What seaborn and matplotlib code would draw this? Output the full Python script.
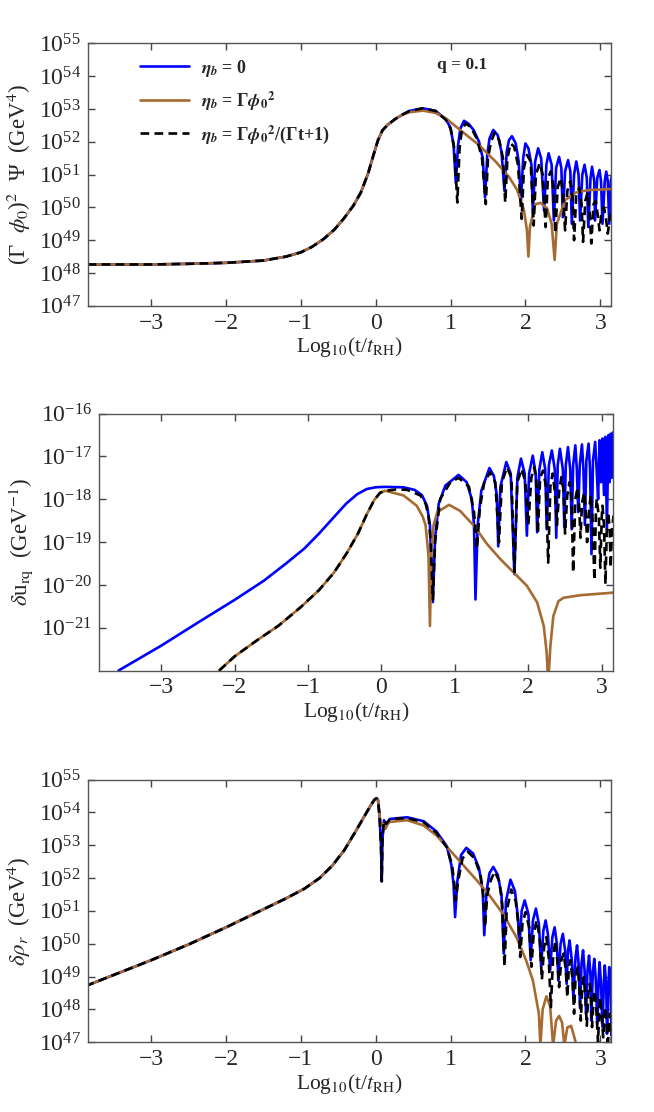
import numpy as np
import matplotlib
matplotlib.use('Agg')
from matplotlib import pyplot as plt
import seaborn as sns

# all y values are log10 of the plotted quantity

# ---------------- panel 1 : (Gamma phi0)^2 Psi ----------------
p1_x_common = [-3.85, -3.0, -2.5, -2.0, -1.5, -1.2, -1.0, -0.85, -0.7, -0.55, -0.42, -0.3, -0.2, -0.1, -0.03, 0.03,
               0.09, 0.16, 0.27, 0.36]
p1_y_common = [48.26, 48.26, 48.28, 48.31, 48.38, 48.5, 48.63, 48.8, 49.03, 49.33, 49.68, 50.05, 50.45, 51.05, 51.6,
               52.05, 52.35, 52.52, 52.71, 52.83]

p1_x_blue = [0.45, 0.63, 0.80, 0.94, 1.0, 1.04, 1.07, 1.10, 1.13, 1.18, 1.24, 1.31, 1.38, 1.43, 1.46, 1.49, 1.52,
             1.57, 1.63, 1.68, 1.72, 1.75, 1.78, 1.82, 1.87, 1.91, 1.94, 1.97, 2.0, 2.04, 2.08, 2.10, 2.13, 2.17,
             2.21, 2.25, 2.28, 2.31, 2.35, 2.38, 2.41, 2.45, 2.48, 2.50, 2.53, 2.57, 2.60, 2.62, 2.65, 2.68, 2.71,
             2.73, 2.76, 2.79, 2.82, 2.84, 2.87, 2.89, 2.92, 2.93, 2.96, 2.99, 3.01, 3.03, 3.06, 3.08, 3.10, 3.12,
             3.14, 3.16]
p1_y_blue = [52.94, 53.02, 52.94, 52.68, 52.42, 51.9, 50.75, 51.9, 52.4, 52.64, 52.55, 52.35, 52.0, 51.5, 50.3, 51.6, 52.1,
             52.36, 52.2, 51.7, 50.5, 51.7, 52.05, 52.17, 51.95, 51.4, 50.2, 51.5, 51.95, 51.8, 51.3, 49.8, 51.4, 51.8,
             51.5, 49.9, 51.3, 51.65, 51.3, 49.6, 51.2, 51.54, 51.2, 49.7, 51.1, 51.44, 51.1, 49.5, 51.0, 51.4, 51.0,
             49.6, 51.0, 51.3, 50.9, 49.4, 50.9, 51.24, 50.8, 49.6, 50.9, 51.14, 50.8, 49.5, 50.8, 51.09, 50.8, 49.5,
             50.8, 51.0]

p1_x_brown = [0.45, 0.63, 0.80, 0.94, 1.16, 1.38, 1.6, 1.78, 1.89, 1.98, 2.02, 2.04, 2.06, 2.13, 2.2, 2.29, 2.35,
              2.39, 2.42, 2.53, 2.67, 2.85, 3.16]
p1_y_brown = [52.9, 52.95, 52.88, 52.71, 52.3, 51.9, 51.4, 50.93, 50.53, 49.92, 49.3, 48.5, 49.4, 50.09, 50.14, 49.97, 49.5,
              48.4, 49.5, 50.22, 50.45, 50.53, 50.56]

p1_x_black = [0.45, 0.63, 0.80, 0.94, 1.0, 1.05, 1.09, 1.12, 1.15, 1.20, 1.27, 1.35, 1.42, 1.47, 1.50, 1.54, 1.59,
              1.65, 1.70, 1.73, 1.76, 1.80, 1.85, 1.90, 1.95, 1.98, 2.02, 2.07, 2.11, 2.14, 2.19, 2.23, 2.27, 2.30,
              2.34, 2.37, 2.40, 2.43, 2.47, 2.50, 2.53, 2.56, 2.60, 2.63, 2.65, 2.68, 2.72, 2.75, 2.77, 2.80, 2.83,
              2.86, 2.88, 2.91, 2.94, 2.97, 2.99, 3.02, 3.05, 3.08, 3.10, 3.13, 3.16]
p1_y_black = [52.94, 53.02, 52.94, 52.66, 52.40, 51.8, 50.15, 51.8, 52.35, 52.56, 52.45, 52.1, 51.5, 50.1, 51.5, 52.0, 52.28,
              52.05, 51.5, 50.15, 51.5, 51.95, 51.85, 51.3, 49.65, 51.2, 51.6, 51.4, 49.45, 51.0, 51.35, 51.0, 49.4, 50.9,
              51.1, 50.7, 49.2, 50.6, 50.9, 50.5, 49.3, 50.5, 50.8, 50.3, 49.0, 50.4, 50.6, 50.1, 48.95, 50.2, 50.45,
              49.8, 48.9, 50.1, 50.2, 49.7, 49.3, 49.9, 50.0, 49.6, 49.2, 49.7, 49.9]

# ---------------- panel 2 : delta u_rq ----------------
p2_x_blue = [-3.58, -3.0, -2.5, -2.0, -1.6, -1.3, -1.05, -0.85, -0.65, -0.48, -0.33, -0.2, -0.08, 0.05, 0.3, 0.45,
             0.55, 0.62, 0.66, 0.70, 0.73,
             0.78, 0.87, 1.05, 1.16, 1.23, 1.26, 1.28, 1.31, 1.36, 1.47, 1.53, 1.57, 1.59, 1.62, 1.70, 1.76, 1.81,
             1.85, 1.90, 1.95, 1.98, 2.01, 2.06, 2.10, 2.12, 2.15, 2.19, 2.23, 2.25, 2.28, 2.32, 2.36, 2.38, 2.40,
             2.43, 2.47, 2.49, 2.51, 2.54, 2.57, 2.59, 2.61, 2.64, 2.66, 2.68, 2.70, 2.73, 2.75, 2.77, 2.79, 2.82,
             2.84, 2.86, 2.88, 2.91, 2.93, 2.95, 2.97, 2.99, 3.01, 3.03, 3.05, 3.07, 3.09, 3.105, 3.12, 3.135,
             3.15, 3.16]
p2_y_blue = [-22.0, -21.42, -20.88, -20.35, -19.9, -19.5, -19.15, -18.8, -18.42, -18.1, -17.88, -17.76, -17.72, -17.71,
             -17.72, -17.78, -17.9, -18.15, -18.6, -20.4, -18.9,
             -18.1, -17.68, -17.43, -17.6, -18.0, -18.6, -20.34, -18.6, -17.8, -17.27, -17.45,
             -17.9, -19.1, -17.7, -17.13, -17.4, -19.75, -17.5, -17.05, -17.4, -18.85, -17.4, -16.98, -17.4, -18.77,
             -17.3, -16.9, -17.3, -18.7, -17.2, -16.86, -17.3, -18.9, -17.2, -16.82, -17.3, -18.65, -17.2, -16.78,
             -17.3, -18.7, -17.2, -16.74, -17.3, -18.3, -17.2, -16.72, -17.3, -18.6, -17.1, -16.7, -17.3, -19.28,
             -17.1, -16.66, -17.3, -18.0, -16.62, -17.6, -16.58, -17.9, -16.54, -18.7, -16.5, -17.6, -16.47, -17.5,
             -16.44, -16.6]

p2_x_common = [-2.21, -2.0, -1.7, -1.4, -1.1, -0.85, -0.65, -0.47, -0.32, -0.2, -0.1, -0.02, 0.05]
p2_y_common = [-22.0, -21.67, -21.3, -20.95, -20.52, -20.12, -19.72, -19.25, -18.8, -18.35, -18.02, -17.85, -17.8]

p2_x_brown = [0.30, 0.48, 0.56, 0.60, 0.64, 0.66, 0.68, 0.71, 0.76, 0.92, 1.07, 1.26, 1.44, 1.62, 1.80, 1.98, 2.12,
              2.21, 2.25, 2.27, 2.30, 2.34, 2.41, 2.48, 2.71, 3.16]
p2_y_brown = [-17.91, -18.15, -18.4, -18.6, -19.3, -20.96, -19.2, -18.6, -18.3, -18.13, -18.27, -18.62, -19.05, -19.4,
              -19.71, -20.02, -20.41, -20.96, -21.59, -22.3, -21.43, -20.73, -20.38, -20.3, -20.24, -20.18]

p2_x_black = [0.20, 0.35, 0.53, 0.60, 0.64, 0.67, 0.70, 0.73, 0.80, 0.94, 1.05, 1.19, 1.26, 1.30, 1.34, 1.40, 1.48,
              1.55, 1.60, 1.64, 1.71, 1.77, 1.81, 1.85, 1.91, 1.96, 2.0, 2.04, 2.08, 2.11, 2.13, 2.16, 2.20, 2.24,
              2.27, 2.30, 2.33, 2.36, 2.39, 2.42, 2.45, 2.48, 2.50, 2.53, 2.56, 2.59, 2.61, 2.64, 2.67, 2.69, 2.71,
              2.73, 2.76, 2.78, 2.80, 2.83, 2.85, 2.87, 2.90, 2.92, 2.93, 2.96, 2.98, 3.0, 3.01, 3.03, 3.05, 3.07,
              3.09, 3.11, 3.12, 3.14, 3.16]
p2_y_black = [-17.77, -17.78, -17.91, -18.1, -18.38, -19.0, -20.34, -19.0, -17.99, -17.6, -17.5, -17.7, -18.3, -19.16,
              -18.2, -17.6, -17.37, -17.6, -19.0, -17.6, -17.25, -17.5, -19.7, -17.6, -17.29, -17.6, -18.6, -17.5,
              -17.25, -17.6, -18.8, -17.5, -17.33, -17.7, -19.48, -17.7, -17.4, -17.8, -18.6, -17.8, -17.48, -17.8,
              -18.8, -17.9, -17.6, -18.0, -19.71, -18.0, -17.72, -18.1, -18.9, -18.1, -17.84, -18.2, -19.0, -18.2,
              -17.9, -18.3, -19.9, -18.3, -17.99, -18.4, -19.6, -18.4, -18.15, -18.6, -19.98, -18.6, -18.3, -18.8,
              -19.6, -18.7, -18.38]

# ---------------- panel 3 : delta rho_r ----------------
p3_x_common = [-3.88, -3.0, -2.5, -2.0, -1.5, -1.2, -0.95, -0.75, -0.58, -0.42, -0.28, -0.16, -0.07, -0.02, 0.01,
               0.03, 0.05]
p3_y_common = [48.71, 49.5, 49.98, 50.5, 51.05, 51.38, 51.68, 52.0, 52.38, 52.85, 53.38, 53.85, 54.2, 54.38, 54.43,
               54.38, 53.9]

p3_x_blue = [0.07, 0.08, 0.09, 0.11, 0.14, 0.19, 0.42, 0.64, 0.81, 0.95, 1.01, 1.04, 1.06, 1.09, 1.14, 1.21, 1.30,
             1.38, 1.43, 1.45, 1.48, 1.52, 1.57, 1.63, 1.68, 1.71, 1.74, 1.80, 1.86, 1.90, 1.92, 1.95, 1.99, 2.04,
             2.07, 2.10, 2.14, 2.18, 2.21, 2.24, 2.27, 2.30, 2.33, 2.36, 2.39, 2.42, 2.44, 2.47, 2.50, 2.53, 2.55,
             2.57, 2.59, 2.62, 2.64, 2.67, 2.69, 2.71, 2.73, 2.75, 2.77, 2.79, 2.81, 2.83, 2.85, 2.87, 2.88, 2.90,
             2.92, 2.94, 2.96, 2.98, 2.99, 3.01, 3.03, 3.05, 3.06, 3.08, 3.09, 3.11, 3.12, 3.14, 3.15, 3.16]
p3_y_blue = [53.0, 51.9, 53.2, 53.76, 53.62, 53.8, 53.85, 53.73, 53.42, 52.97, 52.4, 51.8, 50.81, 51.9, 52.7, 52.92,
             52.75, 52.3, 51.6, 50.26, 51.6, 52.15, 52.34, 52.1, 51.5, 49.7, 51.3, 51.95, 51.6, 50.8, 49.9, 51.0,
             51.32, 50.9, 49.5, 50.7, 51.07, 50.6, 49.3, 50.4, 50.71, 50.3, 49.2, 50.2, 50.5, 50.0, 48.88, 50.0,
             50.3, 49.8, 48.78, 49.8, 50.1, 49.5, 48.37, 49.6, 49.95, 49.4, 48.07, 49.4, 49.8, 49.2, 47.87, 49.2,
             49.64, 49.0, 47.66, 49.1, 49.54, 48.9, 47.56, 49.0, 49.44, 48.8, 47.46, 48.9, 49.34, 48.7, 47.26, 48.8,
             49.29, 48.6, 47.2, 48.5]

p3_x_brown = [0.08, 0.10, 0.13, 0.16, 0.19, 0.42, 0.64, 0.81, 0.99, 1.17, 1.35, 1.52, 1.70, 1.88, 2.01, 2.10, 2.14,
              2.18, 2.20, 2.23, 2.28, 2.33, 2.37, 2.41, 2.45, 2.49, 2.52, 2.56, 2.61, 2.66, 2.69]
p3_y_brown = [53.6, 53.65, 53.5, 53.65, 53.71, 53.76, 53.6, 53.3, 52.85, 52.39, 51.93, 51.47, 50.91, 50.2, 49.49,
              48.88, 48.37, 47.87, 46.9, 48.0, 48.4, 48.1, 46.9, 47.66, 47.8, 47.6, 46.9, 47.45, 47.5, 47.1, 46.8]

p3_x_black = [0.07, 0.08, 0.09, 0.11, 0.14, 0.19, 0.42, 0.64, 0.81, 0.95, 1.02, 1.05, 1.07, 1.10, 1.16, 1.23, 1.32,
              1.40, 1.44, 1.46, 1.49, 1.54, 1.59, 1.65, 1.69, 1.72, 1.75, 1.81, 1.87, 1.91, 1.93, 1.96, 2.0, 2.05,
              2.08, 2.11, 2.15, 2.19, 2.22, 2.25, 2.28, 2.31, 2.34, 2.37, 2.40, 2.43, 2.45, 2.48, 2.51, 2.54, 2.56,
              2.58, 2.60, 2.63, 2.65, 2.67, 2.70, 2.72, 2.74, 2.76, 2.78, 2.80, 2.82, 2.84, 2.86, 2.88, 2.89, 2.91,
              2.93, 2.95, 2.97, 2.99, 3.00, 3.02, 3.04, 3.06, 3.07, 3.09, 3.10, 3.12, 3.13, 3.15, 3.16]
p3_y_black = [53.0, 51.9, 53.2, 53.76, 53.65, 53.8, 53.82, 53.7, 53.38, 52.93, 52.4, 51.8, 51.32, 51.9, 52.6, 52.8,
              52.6, 52.1, 51.4, 50.5, 51.5, 51.95, 52.2, 51.9, 51.2, 49.3, 51.0, 51.65, 51.3, 50.5, 49.6, 50.6,
              50.96, 50.5, 49.3, 50.3, 50.71, 50.2, 48.9, 49.9, 50.2, 49.6, 48.07, 49.6, 50.1, 49.4, 48.68, 49.5,
              49.7, 49.2, 48.37, 49.3, 49.5, 48.9, 47.87, 49.0, 49.29, 48.7, 47.66, 48.7, 48.98, 48.4, 47.5, 48.5,
              48.78, 48.2, 47.46, 48.3, 48.58, 47.9, 47.0, 48.1, 48.37, 47.7, 47.15, 47.9, 48.07, 47.4, 46.8, 47.7,
              47.87, 47.2, 46.9]

labels = [r'$\mathbfit{\eta_b}$ = 0',
          r'$\mathbfit{\eta_b}$ = Γ$\mathbfit{\phi}_{\mathbf{0}}{}^{\mathbf{2}}$',
          r'$\mathbfit{\eta_b}$ = Γ$\mathbfit{\phi}_{\mathbf{0}}{}^{\mathbf{2}}$/(Γt+1)']

sns.set_style('ticks')
plt.rcParams['font.family'] = ['Liberation Serif', 'DejaVu Serif']
plt.rcParams['mathtext.fontset'] = 'stix'

BLUE = '#0000ff'
BROWN = '#a66b32'

fig = plt.figure(figsize=(6.54, 11.12), dpi=100)
ax1 = fig.add_axes([0.134, 0.725, 0.801, 0.236])
ax2 = fig.add_axes([0.151, 0.397, 0.786, 0.231])
ax3 = fig.add_axes([0.134, 0.0627, 0.801, 0.2363])


def draw(ax, x, y, color, label=None, dashed=False):
    ls = (0, (3.3, 2.0)) if dashed else '-'
    sns.lineplot(x=np.array(x), y=np.power(10.0, np.array(y)), ax=ax, color=color, lw=1.9,
                 linestyle=ls, sort=False, estimator=None, label=label, legend=False)


# panel 1
draw(ax1, p1_x_common + p1_x_blue, p1_y_common + p1_y_blue, BLUE, labels[0])
draw(ax1, p1_x_common + p1_x_brown, p1_y_common + p1_y_brown, BROWN, labels[1])
draw(ax1, p1_x_common + p1_x_black, p1_y_common + p1_y_black, 'black', labels[2], dashed=True)
# panel 2
draw(ax2, p2_x_blue, p2_y_blue, BLUE)
draw(ax2, p2_x_common + p2_x_brown, p2_y_common + p2_y_brown, BROWN)
draw(ax2, p2_x_common + p2_x_black, p2_y_common + p2_y_black, 'black', dashed=True)
# panel 3
draw(ax3, p3_x_common + p3_x_blue, p3_y_common + p3_y_blue, BLUE)
draw(ax3, p3_x_common + p3_x_brown, p3_y_common + p3_y_brown, BROWN)
draw(ax3, p3_x_common + p3_x_black, p3_y_common + p3_y_black, 'black', dashed=True)

ylabels = [r'(Γ  $\phi_0$)$^2$  Ψ  (GeV$^4$)',
           r'$\delta$u$_{\rm rq}$  (GeV$^{-1}$)',
           r'$\delta\rho_r$  (GeV$^4$)']
ylims = [(1e47, 1e55), (1e-22, 1e-16), (1e47, 1e55)]
yticks = [[10.0 ** k for k in range(47, 56)],
          [10.0 ** k for k in range(-21, -15)],
          [10.0 ** k for k in range(47, 56)]]

for ax, yl, lim, yt in zip([ax1, ax2, ax3], ylabels, ylims, yticks):
    ax.set_yscale('log')
    ax.set_xlim(-3.85, 3.15)
    ax.set_ylim(*lim)
    ax.set_yticks(yt)
    ax.set_xticks([-3, -2, -1, 0, 1, 2, 3])
    ax.minorticks_off()
    ax.tick_params(direction='in', top=True, right=True, length=5, width=1, color='#444444',
                   labelsize=17, pad=5)
    for s in ax.spines.values():
        s.set_color('#555555')
        s.set_linewidth(1)
    ax.set_ylabel(yl, fontsize=16.5, labelpad=4)
    ax.set_xlabel(r'Log$_{10}$(t/$t_{\rm RH}$)', fontsize=15.5, labelpad=1)

ax1.legend(loc='upper left', bbox_to_anchor=(0.10, 0.945), frameon=False, handlelength=2.7,
           handletextpad=0.7, labelspacing=0.58, borderaxespad=0, borderpad=0,
           prop={'family': 'Liberation Serif', 'weight': 'bold', 'size': 13})
ax1.text(0.715, 0.917, 'q = 0.1', transform=ax1.transAxes, ha='center', va='center',
         fontsize=12.5, fontweight='bold')

fig.savefig('out.png', dpi=100)
